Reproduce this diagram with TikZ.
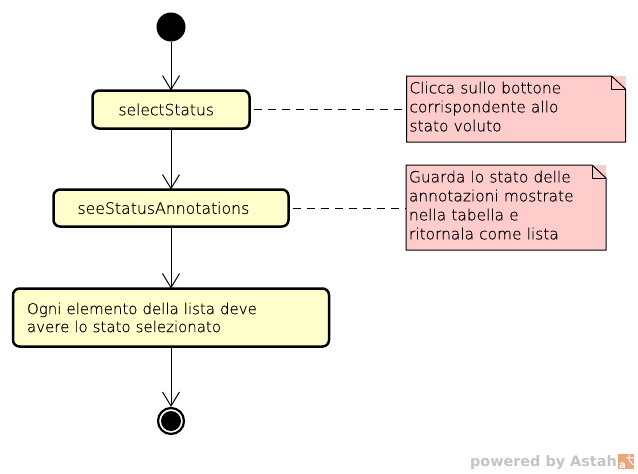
\documentclass[tikz,border=0pt]{standalone}
\usepackage{fontspec}
\setmainfont[FakeBold=0.25]{DejaVu Sans ExtraLight}
\newfontfamily\wmfont{DejaVu Sans Bold}
\usetikzlibrary{arrows.meta,calc}
\definecolor{actfill}{HTML}{FFFFCC}
\definecolor{notefill}{HTML}{FFCCCC}
\definecolor{wm}{HTML}{C4C4C4}
\definecolor{astah}{HTML}{F0A47C}
\tikzset{
  body/.style={font=\fontsize{#1}{18pt}\selectfont},
  actbox/.style={draw=black,fill=actfill,line width=2.5pt,rounded corners=6.5pt,align=left,inner ysep=0pt,outer sep=0pt},
  notebox/.style={font=\fontsize{15.4pt}{19pt}\selectfont,fill=notefill,align=left,inner ysep=0pt,inner xsep=3pt,outer sep=0pt,anchor=center},
  noteline/.style={draw=black,line width=1pt,line join=miter},
  flow/.style={draw=black,line width=1pt,-{Straight Barb[length=14pt,width=17pt,line width=1pt]}},
  link/.style={draw=black,line width=1pt,dash pattern=on 8pt off 6pt},
  startdot/.style={circle,fill=black,minimum size=29pt,inner sep=0pt,outer sep=0pt},
  enddot/.style={circle,draw=black,line width=2.2pt,fill=white,minimum size=26pt,inner sep=0pt,outer sep=1.1pt}
}
\begin{document}
\begin{tikzpicture}[x=1pt,y=-1pt]
\useasboundingbox[fill=white] (0,0) rectangle (638,474);
\node[startdot] (start) at (171,27) {};
\node[actbox,body=15.5pt,text width=105pt,inner xsep=26pt,minimum height=38pt] (a1) at (171,109.5) {selectStatus};
\node[actbox,body=15.7pt,text width=187pt,inner xsep=24pt,minimum height=37pt] (a2) at (171,208) {seeStatusAnnotations};
\node[actbox,body=15pt,text width=288pt,inner xsep=14pt,minimum height=58pt] (a3) at (171,317.5) {Ogni elemento della lista deve\\avere lo stato selezionato};
\node[enddot] (end) at (171,421) {};
\node[circle,fill=black,minimum size=20pt,inner sep=0pt] (endcore) at (end.center) {};
\path[flow] (start) -- (a1);
\path[flow] (a1) -- (a2);
\path[flow] (a2) -- (a3);
\path[flow] (a3) -- (end);
\node[notebox,text width=213pt,minimum height=66pt] (n1) at (516,109) {Clicca sullo bottone\\corrispondente allo\\stato voluto\rule[-5pt]{0pt}{5pt}};
\draw[noteline] (n1.north west) -- ($(n1.north east)+(-14,0)$) -- ($(n1.north east)+(0,13)$) -- (n1.south east) -- (n1.south west) -- cycle;
\draw[noteline] ($(n1.north east)+(-14,0)$) -- ($(n1.north east)+(-14,13)$) -- ($(n1.north east)+(0,13)$);
\node[notebox,text width=194pt,minimum height=85pt] (n2) at (506,207.5) {Guarda lo stato delle\\annotazioni mostrate\\nella tabella e\\ritornala come lista\rule[-5pt]{0pt}{5pt}};
\draw[noteline] (n2.north west) -- ($(n2.north east)+(-14,0)$) -- ($(n2.north east)+(0,13)$) -- (n2.south east) -- (n2.south west) -- cycle;
\draw[noteline] ($(n2.north east)+(-14,0)$) -- ($(n2.north east)+(-14,13)$) -- ($(n2.north east)+(0,13)$);
\path[link,shorten <=4pt] (a1.east) -- (a1.east -| n1.west);
\path[link,shorten <=4pt] (a2.east) -- (a2.east -| n2.west);
\node[font=\wmfont\fontsize{14.4pt}{16pt}\selectfont,text=wm,anchor=base east,inner sep=0pt] (wmark) at (617,466) {powered by Astah};
\node[fill=astah,minimum width=16pt,minimum height=15.5pt,inner sep=0pt,outer sep=0pt,anchor=west] (logo) at (618,461.7) {};
\node[text=white,anchor=south west,inner xsep=1pt,inner ysep=0.5pt,font=\wmfont\fontsize{10pt}{10pt}\selectfont] (logoa) at (logo.south west) {a};
\draw[white,line width=1pt] ($(logo.north east)+(-8,4)$) -- ($(logo.north east)+(0,4)$) ($(logo.north east)+(-5,1)$) -- ($(logo.north east)+(-5,6)$) -- ($(logo.north east)+(-1,11)$);
\end{tikzpicture}
\end{document}
